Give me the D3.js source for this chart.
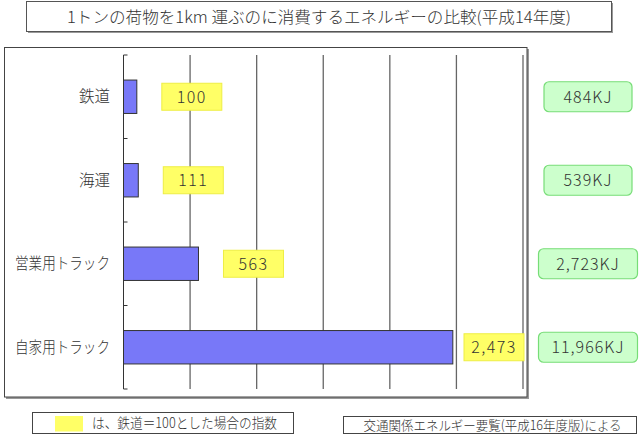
<!DOCTYPE html>
<html><head><meta charset="utf-8">
<script src="https://cdn.jsdelivr.net/npm/d3@7"></script>
<style>
html,body{margin:0;padding:0;background:#fff;}
svg{display:block;font-family:"Noto Sans CJK JP","Noto Sans",sans-serif;font-weight:300;}
</style></head>
<body>
<svg id="c" width="640" height="439"></svg>
<script>
const titleText = "1トンの荷物を1km 運ぶのに消費するエネルギーの比較(平成14年度)";
const categories = ["鉄道", "海運", "営業用トラック", "自家用トラック"];
const indexValues = [100, 111, 563, 2473];
const energyKJ = [484, 539, 2723, 11966];
const xTicks = [0, 500, 1000, 1500, 2000, 2500, 3000];
const legendText = "は、鉄道＝100とした場合の指数";
const sourceText = "交通関係エネルギー要覧(平成16年度版)による";

const svg = d3.select("#c");
const fmt = d3.format(",");

// title box
svg.append("rect").attr("x", 28).attr("y", 3).attr("width", 585).attr("height", 30).attr("fill", "#999");
svg.append("rect").attr("x", 26.5).attr("y", 1.5).attr("width", 585).attr("height", 30)
  .attr("fill", "#fff").attr("stroke", "#555").attr("stroke-width", 1);
svg.append("text").attr("x", 319).attr("y", 22.5).attr("text-anchor", "middle")
  .attr("font-size", 16).attr("fill", "#333").attr("textLength", 504).attr("lengthAdjust", "spacingAndGlyphs")
  .text(titleText);

// chart frame
svg.append("rect").attr("x", 6).attr("y", 49).attr("width", 523).attr("height", 350).attr("fill", "#999");
svg.append("rect").attr("x", 4.5).attr("y", 47.5).attr("width", 522.5).attr("height", 349.5)
  .attr("fill", "#fff").attr("stroke", "#444").attr("stroke-width", 1);

const x = d3.scaleLinear().domain([0, 3000]).range([123.5, 523]);
const y = d3.scaleBand().domain(categories).range([55, 389]).paddingInner(0.6).paddingOuter(0.3);

// gridlines
svg.append("g").selectAll("line").data(xTicks.slice(1)).join("line")
  .attr("x1", d => x(d)).attr("x2", d => x(d)).attr("y1", 55).attr("y2", 389)
  .attr("stroke", "#666").attr("stroke-width", 1.3);

// y axis
const yAxis = svg.append("g");
yAxis.append("line").attr("x1", x(0)).attr("x2", x(0)).attr("y1", 55).attr("y2", 389)
  .attr("stroke", "#333").attr("stroke-width", 1);
const bounds = d3.range(categories.length + 1).map(i => 55 + i * y.step());
yAxis.selectAll("line.tk").data(bounds).join("line").attr("class", "tk")
  .attr("x1", x(0)).attr("x2", x(0) + 4).attr("y1", d => d).attr("y2", d => d)
  .attr("stroke", "#333").attr("stroke-width", 1);

// category labels
svg.append("g").selectAll("text").data(categories).join("text")
  .attr("x", 110).attr("y", d => y(d) + y.bandwidth() / 2 + 5.5)
  .attr("text-anchor", "end").attr("font-size", 15.5).attr("fill", "#333")
  .text(d => d)
  .each(function () {
    if (this.getComputedTextLength() > 95) {
      d3.select(this).attr("textLength", 95).attr("lengthAdjust", "spacingAndGlyphs");
    }
  });

// bars
svg.append("g").selectAll("rect").data(categories).join("rect")
  .attr("x", x(0)).attr("y", d => y(d))
  .attr("width", (d, i) => x(indexValues[i]) - x(0))
  .attr("height", y.bandwidth())
  .attr("fill", "#7878f8").attr("stroke", "#333").attr("stroke-width", 1);

// index labels (yellow)
const lw = 60, lh = 27;
const idx = svg.append("g").selectAll("g").data(categories).join("g")
  .attr("transform", (d, i) => {
    const bx = Math.min(x(indexValues[i]) + 25, x(3000) + 1 - lw);
    return `translate(${bx},${y(d) + y.bandwidth() / 2 - lh / 2})`;
  });
idx.append("rect").attr("width", lw).attr("height", lh)
  .attr("fill", "#ffff66").attr("stroke", "#eeee44").attr("stroke-width", 1);
idx.append("text").attr("x", lw / 2).attr("y", lh / 2 + 6)
  .attr("text-anchor", "middle").attr("font-size", 16).attr("letter-spacing", 1.5)
  .attr("fill", "#333").text((d, i) => fmt(indexValues[i]));

// energy labels (green)
const en = svg.append("g").selectAll("g").data(categories).join("g")
  .attr("transform", (d, i) => `translate(588,${y(d) + y.bandwidth() / 2})`);
en.append("rect")
  .attr("x", (d, i) => energyKJ[i] >= 1000 ? -49.5 : -44)
  .attr("width", (d, i) => energyKJ[i] >= 1000 ? 99 : 88)
  .attr("y", -15).attr("height", 30).attr("rx", 5)
  .attr("fill", "#ccffcc").attr("stroke", "#77dd77").attr("stroke-width", 1.2);
en.append("text").attr("x", 0).attr("y", 6)
  .attr("text-anchor", "middle").attr("font-size", 16).attr("letter-spacing", 1)
  .attr("fill", "#333").text((d, i) => fmt(energyKJ[i]) + "KJ");

// legend box
svg.append("rect").attr("x", 32.5).attr("y", 412.5).attr("width", 261).attr("height", 21)
  .attr("fill", "#fff").attr("stroke", "#444").attr("stroke-width", 1);
svg.append("rect").attr("x", 55).attr("y", 416).attr("width", 28).attr("height", 15.5).attr("fill", "#ffff66");
svg.append("text").attr("x", 92).attr("y", 428).attr("font-size", 14).attr("fill", "#333")
  .attr("textLength", 185).attr("lengthAdjust", "spacingAndGlyphs").text(legendText);

// source box
svg.append("rect").attr("x", 343.5).attr("y", 416.5).attr("width", 293).attr("height", 17)
  .attr("fill", "#fff").attr("stroke", "#444").attr("stroke-width", 1);
svg.append("text").attr("x", 492.5).attr("y", 429.5).attr("text-anchor", "middle").attr("font-size", 13)
  .attr("fill", "#333").attr("textLength", 258).attr("lengthAdjust", "spacingAndGlyphs").text(sourceText);
</script>
</body></html>
